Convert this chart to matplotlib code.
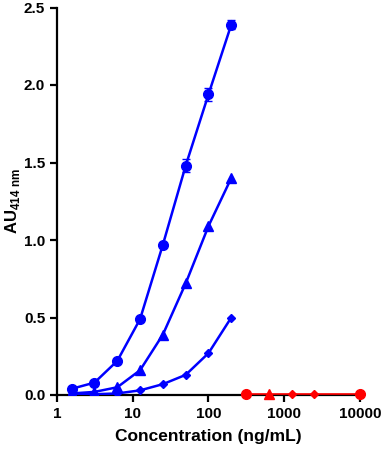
import matplotlib
matplotlib.use("Agg")
import matplotlib.pyplot as plt
import numpy as np

plt.rcParams['font.family'] = ['Liberation Sans', 'DejaVu Sans']
plt.rcParams['font.weight'] = 'bold'
plt.rcParams['mathtext.fontset'] = 'custom'
plt.rcParams['mathtext.bf'] = 'Liberation Sans:bold'
plt.rcParams['mathtext.rm'] = 'Liberation Sans:bold'

conc = [1.5625, 3.125, 6.25, 12.5, 25, 50, 100, 200]
circle_vals = [0.04, 0.08, 0.22, 0.49, 0.97, 1.48, 1.94, 2.39]
circle_err = [0.005, 0.005, 0.01, 0.01, 0.01, 0.04, 0.04, 0.03]
triangle_vals = [0.01, 0.02, 0.05, 0.16, 0.39, 0.72, 1.09, 1.40]
diamond_vals = [0.005, 0.005, 0.01, 0.03, 0.07, 0.13, 0.27, 0.50]

red_conc = [312.5, 625, 1250, 2500, 5000, 10000]
red_vals = [0.005, 0.005, 0.005, 0.005, 0.005, 0.005]
red_markers = ['o', '^', 'D', 'D', None, 'o']

xticks = [1, 10, 100, 1000, 10000]
yticks = [0.0, 0.5, 1.0, 1.5, 2.0, 2.5]

blue = '#0000ff'
red = '#ff0000'

fig = plt.figure(figsize=(3.83, 4.49), dpi=100)
ax = fig.add_axes([57/383, 54/449, (360-57)/383, (395-7.5)/449])

lw = 1.8
ax.errorbar(conc, circle_vals, yerr=circle_err, color=blue, marker='o', ms=7,
            lw=lw, capsize=3, elinewidth=1, capthick=1, zorder=3)
ax.plot(conc, triangle_vals, color=blue, marker='^', ms=7, lw=lw, zorder=3)
ax.plot(conc, diamond_vals, color=blue, marker='D', ms=4.5, lw=lw, zorder=3)

ax.plot(red_conc, red_vals, color=red, lw=1.2, zorder=3, clip_on=False)
for xc, yv, m in zip(red_conc, red_vals, red_markers):
    if m is None:
        continue
    ms = 4.5 if m == 'D' else 7
    ax.plot([xc], [yv], color=red, marker=m, ms=ms, ls='none', zorder=4, clip_on=False)

ax.set_xscale('log')
ax.set_xlim(1, 10000)
ax.set_ylim(0, 2.5)
ax.set_xticks(xticks)
ax.set_xticklabels([str(t) for t in xticks])
ax.xaxis.set_minor_locator(matplotlib.ticker.NullLocator())
ax.set_yticks(yticks)
ax.set_yticklabels([f"{t:.1f}" for t in yticks])

for s in ['top', 'right']:
    ax.spines[s].set_visible(False)
for s in ['left', 'bottom']:
    ax.spines[s].set_linewidth(1.6)
ax.tick_params(axis='both', width=1.6, length=5, labelsize=11, direction='out')
for lab in ax.get_xticklabels() + ax.get_yticklabels():
    lab.set_fontweight('bold')

ax.set_xlabel('Concentration (ng/mL)', fontsize=12.5, fontweight='bold', labelpad=6)
ax.set_ylabel(r'AU$_{\mathbf{414\ nm}}$', fontsize=12, fontweight='bold')
ax.yaxis.set_label_coords(-0.115, 0.5)

fig.savefig('out.png', dpi=100)
